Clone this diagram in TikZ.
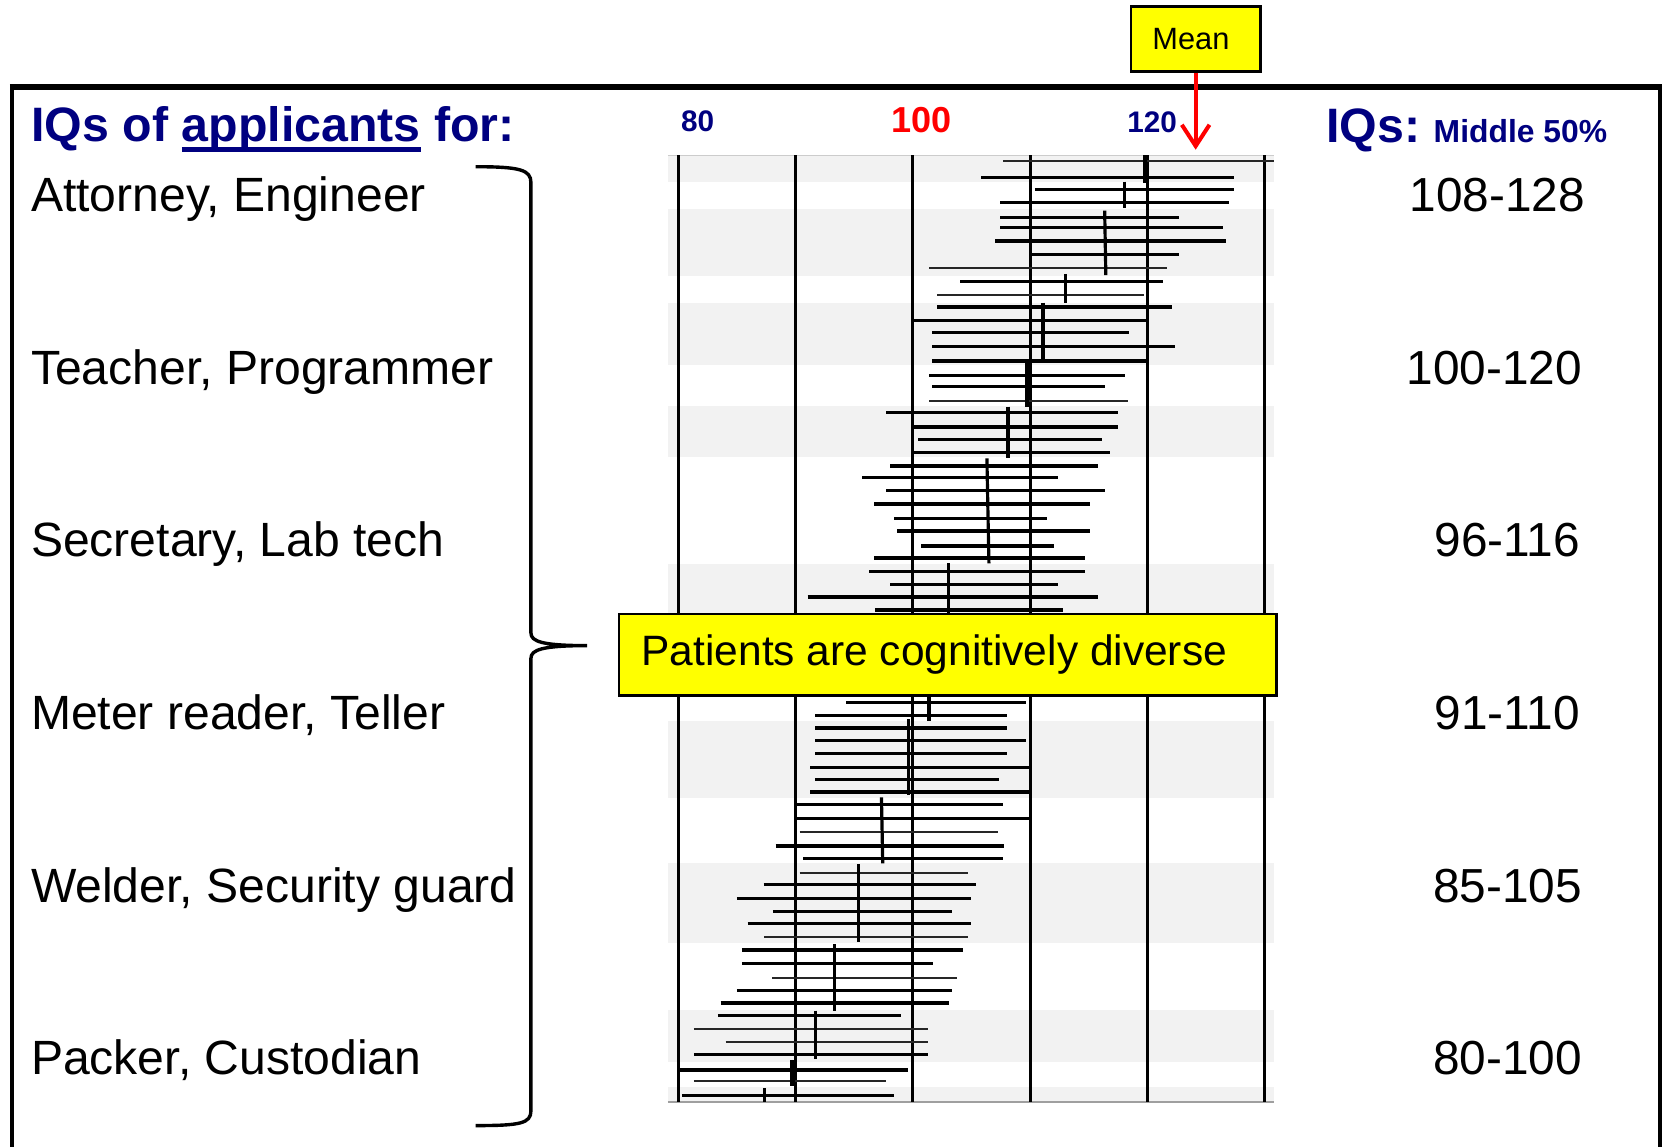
\documentclass[tikz,border=0pt]{standalone}
\usepackage{fontspec}
\setmainfont{Liberation Sans}
\usetikzlibrary{arrows.meta}
\definecolor{navy}{RGB}{0,0,128}
\definecolor{bandgray}{RGB}{242,242,242}
\definecolor{yel}{RGB}{255,255,0}
\def\myul#1{\setbox0\hbox{#1}\rlap{\vrule height -5.5pt depth 9.5pt width \wd0}\box0\relax}
\begin{document}
\begin{tikzpicture}[x=1pt,y=-1pt,
  gridline/.style={line width=2.8pt},
  bar/.style={line width=3pt},
  thinbar/.style={line width=2.1pt, black!85},
  medtick/.style={line width=3pt},
  lbl/.style={anchor=base west, inner sep=0pt, font=\fontsize{45.3}{50}\selectfont},
  rng/.style={anchor=base east, inner sep=0pt, font=\fontsize{45}{50}\selectfont},
  hdr/.style={inner sep=0pt, text=navy, font=\bfseries\fontsize{45.5}{50}\selectfont},
  axislbl/.style={anchor=base, inner sep=0pt, font=\bfseries\fontsize{28}{32}\selectfont},
  yellowbox/.style={draw=black, fill=yel, line width=2.2pt, inner sep=0pt},
]
\useasboundingbox (0,0) rectangle (1568,1080);
\fill[white] (0,0) rectangle (1568,1080);

% background bands
\foreach \a/\b in {146/171.1,196.8/259.9,285/343.7,382.3/430,531.1/620,679/751.2,813/887.7,951.1/1000.1,1023.6/1038.1}
  \fill[bandgray] (628.9,\a) rectangle (1199.9,\b);
\draw[gray!40, line width=1pt] (628.9,146) -- (1199.9,146);
\draw[gray!75, line width=1.8pt] (628.9,1038.1) -- (1199.9,1038.1);

% vertical grid lines
\foreach \x in {639.4,749.5,859.7,970.2,1080.8,1190.9}
  \draw[gridline] (\x,146) -- (\x,1038.1);

% bars
\foreach \y/\p/\q in {167.0/923.9/1162.5,178.3/974.5/1162.5,190.5/941.8/1157.8,204.7/941.8/1110.7,
  214.1/941.8/1152.0,226.9/937.1/1154.7,239.5/971.0/1110.7,264.9/904.1/1095.6,289.1/882.7/1103.3,
  301.7/859.7/1080.8,313.0/878.0/1062.9,326.1/878.0/1106.1,339.9/878.0/1080.8,353.4/875.3/1059.0,
  363.8/878.0/1040.3,388.3/834.8/1052.4,402.1/859.7/1052.4,413.7/864.8/1037.6,425.9/859.7/1045.0,
  438.8/838.3/1033.7,449.5/812.2/996.3,461.7/834.8/1040.3,474.6/823.5/1026.3,488.1/842.2/985.8,
  500.0/844.9/1026.3,514.2/867.5/992.8,525.5/823.5/1021.6,538.0/818.8/1021.6,550.3/838.3/996.3,
  562.2/760.5/1033.7,574.4/824.3/1000.6,661.4/797.0/966.0,673.6/767.8/948.4,685.6/767.8/948.4,
  697.2/767.8/966.0,709.4/767.8/948.4,722.9/763.2/970.2,733.9/767.8/940.6,745.8/763.2/970.2,
  757.4/750.0/944.5,770.6/750.0/970.2,796.7/730.5/945.3,808.3/756.6/944.5,832.8/719.2/919.2,
  846.0/693.9/914.6,858.2/727.8/896.7,869.5/704.0/914.6,894.6/698.6/906.8,907.2/698.6/878.8,
  932.6/693.9/896.7,944.5/678.7/893.6,956.1/676.0/848.8,992.9/653.4/874.1,1007.6/640.2/855.4,
  1031.5/642.1/842.2}
  \draw[bar] (\p,\y) -- (\q,\y);
\foreach \y/\p/\q in {151.3/944.9/1199.9,252.1/875.3/1098.7,278.1/882.7/1077.3,377.3/875.3/1062.5,
  783.8/753.1/940.3,822.1/753.1/911.9,882.7/719.6/911.9,921.0/727.4/901.0,969.3/653.4/874.1,
  981.6/683.4/874.1,1018.0/653.4/834.8}
  \draw[thinbar] (\p,\y) -- (\q,\y);

% median ticks
\draw[medtick, line width=4pt] (1078.0,146.0) -- (1078.0,172.6);
\foreach \xa/\xb/\ya/\yb in {1059.0/1059.0/171.1/196.2,1040.3/1041.4/198.4/259.0,1003.7/1003.7/258.0/285.0,
  982.3/982.3/285.0/339.0,967.1/967.1/340.6/383.0,949.2/949.2/383.0/431.6,929.4/931.3/431.6/530.5,
  893.2/893.2/530.5/578,874.9/874.9/655.4/679.0,855.8/855.8/677.4/748.7,830.1/831.3/750.9/813.0,
  808.7/808.7/813.6/887.1,786.2/786.2/889.3/951.7,768.2/768.2/951.7/997.0,745.0/745.0/998.2/1022.4,
  747.6/747.6/998.2/1022.4,720.0/720.0/1024.9/1038.1}
  \draw[medtick] (\xa,\ya) -- (\xb,\yb);

% callout
\node[yellowbox, minimum width=619pt, minimum height=77pt] (callout) at (892.5,616.5) {};
\node[anchor=base west, inner sep=0pt, font=\fontsize{40}{44}\selectfont] (calltext) at (604,626.5) {Patients are cognitively diverse};

% brace
\draw[line width=3.2pt] (448,157) .. controls (490,157) and (500,160) .. (500,172) -- (500,596)
  .. controls (500,604) and (510,608) .. (553,608)
  .. controls (510,608) and (500,612) .. (500,620) -- (500,1046)
  .. controls (500,1058) and (490,1060) .. (448,1060);

% header
\node[hdr, anchor=base west] (title) at (29.5,133.4) {IQs of \myul{applicants} for:};
\node[axislbl, text=navy] (a80) at (657,124) {80};
\node[axislbl, text=red, font=\bfseries\fontsize{34}{38}\selectfont] (a100) at (868,125) {100};
\node[axislbl, text=navy] (a120) at (1085,125) {120};
\node[hdr, anchor=base west] (iqs) at (1249,134.5) {IQs:};
\node[anchor=base west, inner sep=0pt, text=navy, font=\bfseries\fontsize{30}{34}\selectfont] (mid) at (1350,134.5) {Middle 50\%};

% left labels
\node[lbl] (l1) at (29,199.5) {Attorney, Engineer};
\node[lbl] (l2) at (29,362) {Teacher, Programmer};
\node[lbl] (l3) at (29,524.5) {Secretary, Lab tech};
\node[lbl] (l4) at (29,687) {Meter reader, Teller};
\node[lbl] (l5) at (29,849.5) {Welder, Security guard};
\node[lbl] (l6) at (29,1011.5) {Packer, Custodian};

% right labels
\node[rng] (r1) at (1493,199.5) {108-128};
\node[rng] (r2) at (1490,362) {100-120};
\node[rng] (r3) at (1488,524.5) {96-116};
\node[rng] (r4) at (1488,687) {91-110};
\node[rng] (r5) at (1490,849.5) {85-105};
\node[rng] (r6) at (1490,1011.5) {80-100};

% frame
\draw[line width=3.8pt] (11.3,1080) -- (11.3,82);
\draw[line width=3.8pt] (1563,82) -- (1563,1080);
\draw[line width=5pt] (9.4,82) -- (1565,82);

% mean marker
\node[yellowbox, minimum width=122pt, minimum height=61pt, font=\fontsize{29}{32}\selectfont] (mean) at (1126,36.7) {\hspace*{-9pt}Mean};
\coordinate (meantip) at (1126,141);
\draw[red, line width=3.8pt, -{Straight Barb[length=20pt,width=26pt]}] (mean.south) -- (meantip);
\end{tikzpicture}
\end{document}
